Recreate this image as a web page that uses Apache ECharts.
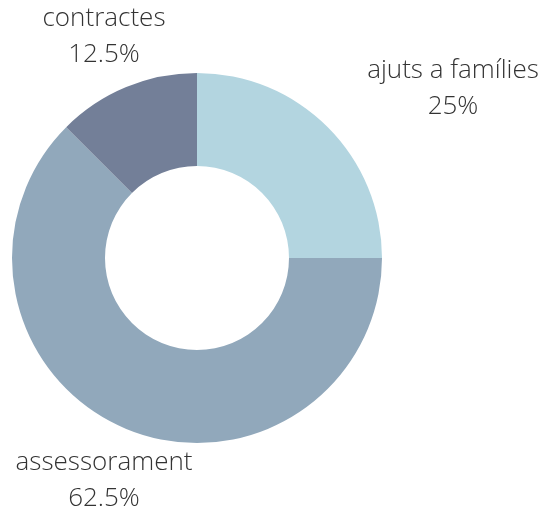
<!DOCTYPE html>
<html>
<head>
<meta charset="utf-8">
<script src="https://cdn.jsdelivr.net/npm/echarts@6/dist/echarts.min.js"></script>
<style>
    html, body { margin: 0; padding: 0; background: #fff; }
    #main { width: 542px; height: 513px; }
</style>
</head>
<body>
<div id="main"></div>
<script>
// data
var categories = ['ajuts a famílies', 'assessorament', 'contractes'];
var values = [25, 62.5, 12.5];
var colors = ['#b3d5e0', '#91a8bb', '#737f98'];
// where each label sits (centre of the two-line text)
var labelSpots = [[453, 89], [104, 481], [104, 37]];

var myChart = echarts.init(document.getElementById('main'));

var option = {
    backgroundColor: '#fff',
    animation: false,
    series: [
        {
            type: 'pie',
            center: [197, 258],
            radius: [92, 185],
            startAngle: 90,
            clockwise: true,
            data: categories.map(function (c, i) {
                return { name: c, value: values[i], itemStyle: { color: colors[i] } };
            }),
            label: {
                show: true,
                formatter: '{b}\n{d}%',
                fontFamily: 'Open Sans',
                fontWeight: 300,
                fontSize: 26,
                lineHeight: 36,
                color: '#333',
                align: 'center',
                overflow: 'none',
                width: 300
            },
            labelLine: { show: false },
            labelLayout: function (params) {
                var p = labelSpots[params.dataIndex];
                return { x: p[0], y: p[1], align: 'center', verticalAlign: 'middle' };
            }
        }
    ]
};

myChart.setOption(option);
</script>
</body>
</html>
